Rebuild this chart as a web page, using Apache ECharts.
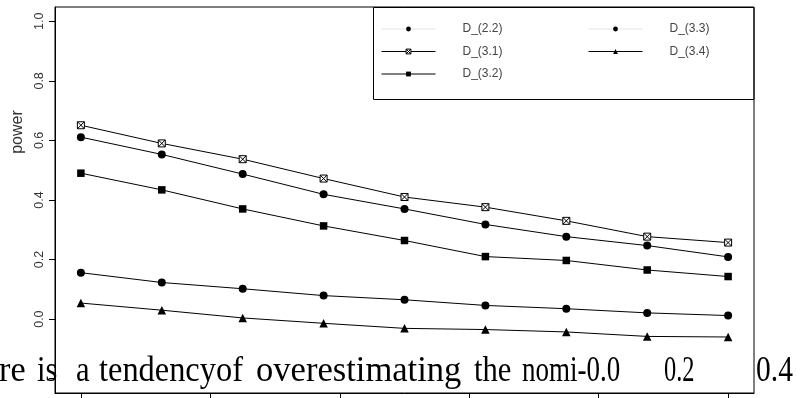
<!DOCTYPE html>
<html>
<head>
<meta charset="utf-8">
<script src="https://cdn.jsdelivr.net/npm/echarts@6/dist/echarts.min.js"></script>
<style>html,body{margin:0;padding:0;background:#fff}#c{width:809px;height:398px}</style>
</head>
<body>
<div id="c"></div>
<script>
// ---- data ----
const xPositions = [0, 1, 2, 3, 4, 5, 6, 7, 8];
const d22 = [0.611, 0.553, 0.487, 0.419, 0.370, 0.318, 0.277, 0.247, 0.209];
const d31 = [0.651, 0.590, 0.537, 0.472, 0.410, 0.376, 0.330, 0.277, 0.257];
const d32 = [0.490, 0.434, 0.370, 0.313, 0.264, 0.210, 0.197, 0.165, 0.143];
const d33 = [0.156, 0.123, 0.102, 0.079, 0.065, 0.046, 0.035, 0.021, 0.012];
const d34 = [0.054, 0.030, 0.004, -0.014, -0.031, -0.035, -0.043, -0.058, -0.060];
const seriesNames = ['D_(2.2)', 'D_(3.1)', 'D_(3.2)', 'D_(3.3)', 'D_(3.4)'];
const yTickValues = [-0.2, 0, 0.2, 0.4, 0.6, 0.8, 1.0];
const yLabelValues = [0, 0.2, 0.4, 0.6, 0.8, 1.0];
const xTickValues = [0, 1.6, 3.2, 4.8, 6.4, 8];
const yAxisTitle = 'power';
const overlayWords = ['re', 'is', 'a', 'tendencyof', 'overestimating', 'the', 'nomi-0.0', '0.2', '0.4'];

// ---- layout (not data) ----
const overlayX = [-1, 37, 76, 99, 256, 474, 522, 664, 756];
const overlayScale = [0.95, 0.85, 0.85, 0.9, 0.96, 0.85, 0.75, 0.68, 0.82];

const crossSquare = 'path://M0,0L10,0L10,10L0,10ZM0,0L10,10M10,0L0,10';
const symbols = ['circle', crossSquare, 'rect', 'circle', 'triangle'];
const sizes = [8, 7, 7.5, 8, 8.5];
const values = [d22, d31, d32, d33, d34];

const series = seriesNames.map((name, k) => ({
  type: 'line',
  name: name,
  data: xPositions.map((x, i) => [x, values[k][i]]),
  symbol: symbols[k],
  symbolSize: sizes[k],
  showSymbol: true,
  lineStyle: { color: '#000', width: 1 },
  itemStyle: k === 1 ? { color: '#fff', borderColor: '#000', borderWidth: 1 } : { color: '#000' },
  emphasis: { disabled: true },
  z: 3
}));

const legendFont = { fontFamily: 'Liberation Sans Narrow, Liberation Sans, Arial', fontSize: 12, color: '#444', padding: [0, 0, 0, 22] };
const legendCommon = {
  orient: 'vertical', top: 23, itemWidth: 54, itemHeight: 6, itemGap: 10.5,
  padding: 0, selectedMode: false, textStyle: legendFont
};
const thinLine = { color: '#000', width: 1 };
const lightLine = { color: '#e3e3e3', width: 1 };

const graphics = overlayWords.map((w, i) => ({
  type: 'text', x: overlayX[i], y: 354, scaleX: overlayScale[i], z: 100, silent: true,
  style: { text: w, font: '36px "Liberation Serif", "Times New Roman", serif', fill: '#000', textVerticalAlign: 'alphabetic', textAlign: 'left' }
}));
graphics.push({
  type: 'rect', shape: { x: 373.5, y: 7.5, width: 380.5, height: 92 }, z: 1, silent: true,
  style: { fill: 'none', stroke: '#000', lineWidth: 1 }
});
graphics.push({
  type: 'text', x: 18, y: 132, rotation: Math.PI / 2, z: 10, silent: true,
  style: { text: yAxisTitle, font: '16px "Liberation Sans", Arial, sans-serif', fill: '#333', textAlign: 'center', textVerticalAlign: 'middle' }
});

const chart = echarts.init(document.getElementById('c'));
chart.setOption({
  animation: false,
  backgroundColor: '#fff',
  grid: { left: 55, right: 55, top: 7, bottom: 5, show: true, borderColor: '#000', borderWidth: 1, backgroundColor: 'transparent' },
  xAxis: {
    type: 'value', min: -0.32, max: 8.32,
    axisLine: { show: true, onZero: false, lineStyle: { color: '#000', width: 1 } },
    axisTick: { show: true, length: 6, customValues: xTickValues, lineStyle: { color: '#000' } },
    axisLabel: { show: false },
    splitLine: { show: false }
  },
  yAxis: {
    type: 'value', min: -0.248, max: 1.048,
    axisLine: { show: true, onZero: false, lineStyle: { color: '#000', width: 1 } },
    axisTick: { show: true, length: 6, customValues: yTickValues, lineStyle: { color: '#000' } },
    axisLabel: {
      show: true, customValues: yLabelValues, rotate: 90, margin: 9,
      fontFamily: 'Liberation Sans, Arial', fontSize: 12.5, color: '#333',
      formatter: v => Number(v).toFixed(1)
    },
    splitLine: { show: false }
  },
  legend: [
    Object.assign({}, legendCommon, { left: 381, data: [
      { name: 'D_(2.2)', lineStyle: lightLine },
      { name: 'D_(3.1)', lineStyle: thinLine, itemStyle: { color: '#fff', borderColor: '#000', borderWidth: 1 } },
      { name: 'D_(3.2)', lineStyle: thinLine } ] }),
    Object.assign({}, legendCommon, { left: 588, data: [
      { name: 'D_(3.3)', lineStyle: lightLine },
      { name: 'D_(3.4)', lineStyle: thinLine } ] })
  ],
  graphic: graphics,
  series: series
});
</script>
</body>
</html>
